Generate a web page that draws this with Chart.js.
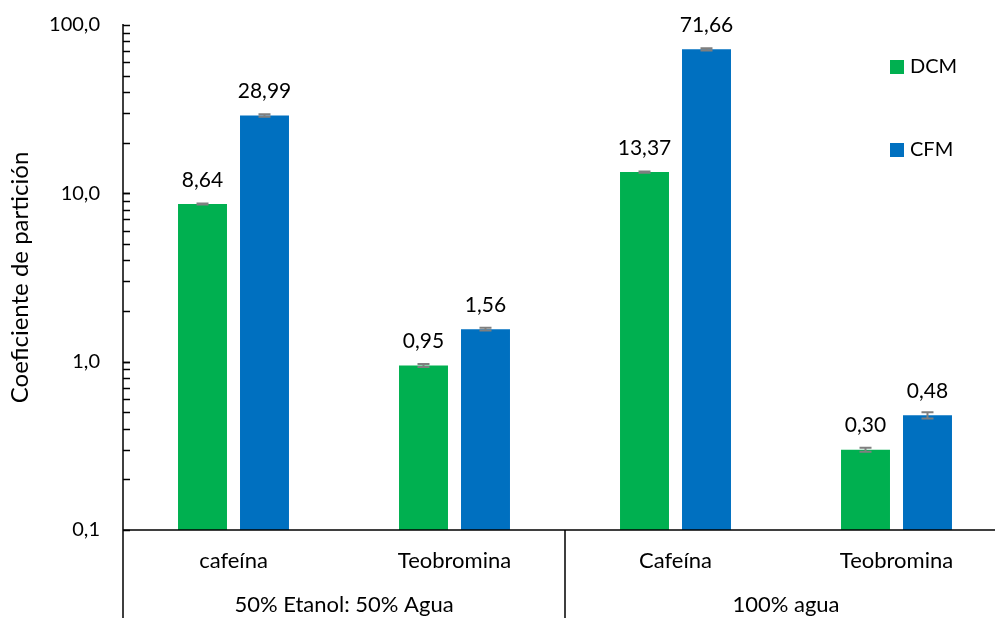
<!DOCTYPE html>
<html><head><meta charset="utf-8">
<script src="https://cdn.jsdelivr.net/npm/chart.js@4/dist/chart.umd.min.js"></script>
<style>html,body{margin:0;padding:0;background:#fff;overflow:hidden}#wrap{width:1008px;height:618px}</style>
</head><body><div id="wrap"><canvas id="c"></canvas></div>
<script>
const categories = ['cafeína','Teobromina','Cafeína','Teobromina'];
const groups = ['50% Etanol: 50% Agua','100% agua'];
const dcm = [8.64, 0.95, 13.37, 0.30];
const cfm = [28.99, 1.56, 71.66, 0.48];
const dcmErr = [0.06, 0.02, 0.12, 0.008];
const cfmErr = [0.5, 0.03, 1.1, 0.02];
const majorTicks = [0.1, 1, 10, 100];
const seriesNames = ['DCM','CFM'];
const colors = ['#00B050','#0070C0'];
const FONT = 'Lato, "Open Sans", sans-serif';

const fmt = (v, d) => v.toFixed(d).replace('.', ',');

const overlay = {
  id:'overlay',
  afterDraw(chart){
    const ctx = chart.ctx, ca = chart.chartArea, y = chart.scales.y, x = chart.scales.x;
    ctx.save();
    ctx.strokeStyle = '#000'; ctx.lineWidth = 1.5;
    ctx.beginPath();
    ctx.moveTo(ca.left, ca.top - 1); ctx.lineTo(ca.left, chart.height);
    ctx.moveTo(ca.left, ca.bottom); ctx.lineTo(ca.right, ca.bottom);
    const mid = (x.getPixelForValue(1) + x.getPixelForValue(2)) / 2;
    ctx.moveTo(mid, ca.bottom); ctx.lineTo(mid, chart.height);
    ctx.stroke();
    for (let e = -1; e < 2; e++) {
      for (let m = 1; m <= 10; m++) {
        const v = m * Math.pow(10, e);
        const py = Math.round(y.getPixelForValue(v)) + 0.5;
        ctx.beginPath(); ctx.moveTo(ca.left, py); ctx.lineTo(ca.left + 7, py); ctx.stroke();
      }
    }
    // y tick labels
    ctx.fillStyle = '#000'; ctx.font = '20px ' + FONT; ctx.textAlign = 'right'; ctx.textBaseline = 'middle';
    majorTicks.forEach(v => ctx.fillText(fmt(v, 1), 100, y.getPixelForValue(v)));
    ctx.font = '21px ' + FONT; ctx.textAlign = 'center';
    [[dcm, dcmErr], [cfm, cfmErr]].forEach(([vals, errs], di) => {
      const meta = chart.getDatasetMeta(di);
      meta.data.forEach((bar, i) => {
        const v = vals[i], e = errs[i];
        const yHi = y.getPixelForValue(v + e), yLo = y.getPixelForValue(v - e);
        ctx.strokeStyle = '#7F7F7F'; ctx.lineWidth = 2;
        ctx.beginPath();
        ctx.moveTo(bar.x, yHi); ctx.lineTo(bar.x, yLo);
        ctx.moveTo(bar.x - 6, yHi); ctx.lineTo(bar.x + 6, yHi);
        ctx.moveTo(bar.x - 6, yLo); ctx.lineTo(bar.x + 6, yLo);
        ctx.stroke();
        ctx.fillText(fmt(v, 2), bar.x, y.getPixelForValue(v) - 24);
      });
    });
    ctx.font = '22px ' + FONT;
    const g0 = (ca.left + mid) / 2, g1 = (mid + ca.right) / 2;
    ctx.fillText(groups[0], g0, 605);
    ctx.fillText(groups[1], g1, 605);
    ctx.textAlign = 'left'; ctx.font = '20px ' + FONT;
    [[67, 0], [150, 1]].forEach(([ly, k]) => {
      ctx.fillStyle = colors[k]; ctx.fillRect(890, ly - 7, 14, 14);
      ctx.fillStyle = '#000'; ctx.fillText(seriesNames[k], 910, ly);
    });
    ctx.restore();
  }
};

new Chart(document.getElementById('c'), {
  type:'bar',
  data:{ labels: categories, datasets:[
    {label: seriesNames[0], data: dcm, backgroundColor: colors[0], categoryPercentage: 0.561, barPercentage: 0.79},
    {label: seriesNames[1], data: cfm, backgroundColor: colors[1], categoryPercentage: 0.561, barPercentage: 0.79}
  ]},
  options:{
    responsive:true, maintainAspectRatio:false, animation:false,
    layout:{padding:{top:25, right:1, left:0, bottom:0}},
    plugins:{legend:{display:false}, tooltip:{enabled:false}},
    scales:{
      x:{
        grid:{display:false, drawTicks:false}, border:{display:false},
        ticks:{color:'#000', font:{family:FONT, size:22}, padding:18, maxRotation:0},
        afterFit(s){ s.height = 88; }
      },
      y:{
        type:'logarithmic', min:0.1, max:100,
        grid:{display:false, drawTicks:false}, border:{display:false},
        ticks:{display:false},
        title:{display:true, text:'Coeficiente de partición', color:'#000', font:{family:FONT, size:24}, padding:{top:6, bottom:0}},
        afterFit(s){ s.width = 123; }
      }
    }
  },
  plugins:[overlay]
});
</script></body></html>
